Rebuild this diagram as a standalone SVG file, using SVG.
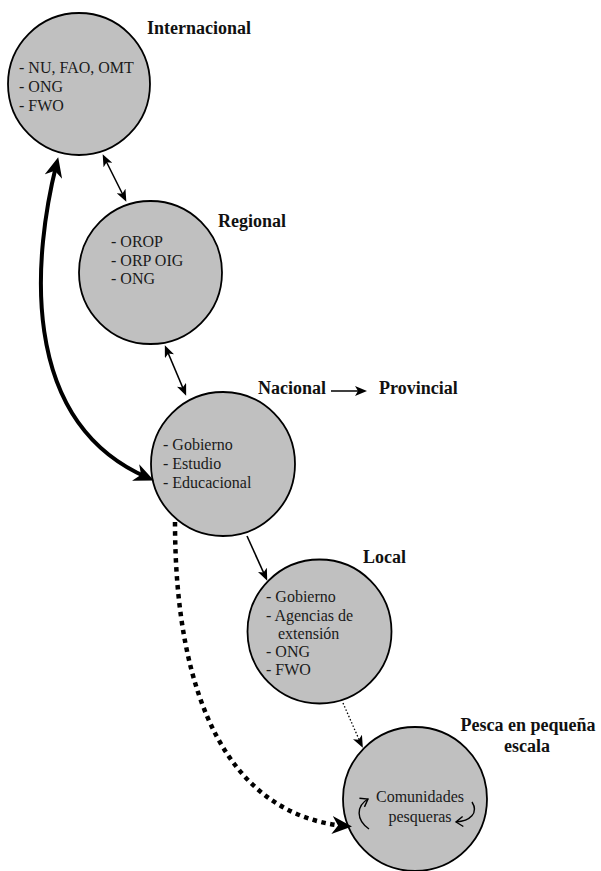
<svg xmlns="http://www.w3.org/2000/svg" width="601" height="871" viewBox="0 0 601 871" font-family="'Liberation Serif', 'Times New Roman', serif">
<style>
.node{fill:#c0c0c0;stroke:#000;stroke-width:1.8}
.t{font-family:'Liberation Serif','Times New Roman',serif;font-size:16px;fill:#1a1a1a}
.h{font-family:'Liberation Serif','Times New Roman',serif;font-size:18px;font-weight:bold;fill:#111}
.thin{fill:none;stroke:#000;stroke-width:1.6}
.thick{fill:none;stroke:#000;stroke-width:4}
.dot{fill:none;stroke:#000;stroke-width:1.3;stroke-dasharray:1.5 2}
.bigdot{fill:none;stroke:#000;stroke-width:4.5;stroke-dasharray:4.5 4.5}
.curl{fill:none;stroke:#000;stroke-width:1.4}
</style>
<defs>
<marker id="a" markerUnits="userSpaceOnUse" markerWidth="12" markerHeight="10" viewBox="0 0 12 10" refX="9" refY="5" orient="auto-start-reverse">
<path d="M0,0 L12,5 L0,10 L3,5 z" fill="#000"/>
</marker>
<marker id="b" markerUnits="userSpaceOnUse" markerWidth="20" markerHeight="18" viewBox="0 0 20 18" refX="13" refY="9" orient="auto-start-reverse">
<path d="M0,0 L20,9 L0,18 L6,9 z" fill="#000"/>
</marker>
<marker id="o" markerUnits="userSpaceOnUse" markerWidth="10" markerHeight="12" viewBox="0 0 10 12" refX="8" refY="6" orient="auto">
<path d="M1,1 L8,6 L1,11" fill="none" stroke="#000" stroke-width="1.4"/>
</marker>
</defs>

<g id="internacional">
<circle class="node" cx="79" cy="84" r="71"/>
<text class="h" x="147" y="34">Internacional</text>
<text class="t" x="19" y="73">- NU, FAO, OMT</text>
<text class="t" x="19" y="92">- ONG</text>
<text class="t" x="19" y="111">- FWO</text>
</g>

<g id="regional">
<circle class="node" cx="150.5" cy="272.5" r="71.5"/>
<text class="h" x="218" y="227">Regional</text>
<text class="t" x="111" y="247">- OROP</text>
<text class="t" x="111" y="266">- ORP OIG</text>
<text class="t" x="111" y="284">- ONG</text>
</g>

<g id="nacional">
<circle class="node" cx="223" cy="464" r="72"/>
<text class="h" x="258" y="394">Nacional</text>
<text class="t" x="163" y="450">- Gobierno</text>
<text class="t" x="163" y="469">- Estudio</text>
<text class="t" x="163" y="488">- Educacional</text>
</g>

<g id="provincial">
<text class="h" x="379" y="394">Provincial</text>
</g>

<g id="local">
<circle class="node" cx="319.5" cy="631.5" r="72"/>
<text class="h" x="363" y="563">Local</text>
<text class="t" x="266" y="602">- Gobierno</text>
<text class="t" x="266" y="621">- Agencias de</text>
<text class="t" x="278" y="639">extensión</text>
<text class="t" x="266" y="657">- ONG</text>
<text class="t" x="266" y="675">- FWO</text>
</g>

<g id="pesca">
<circle class="node" cx="415" cy="799" r="72"/>
<text class="h" x="528" y="731" text-anchor="middle">Pesca en pequeña</text>
<text class="h" x="527" y="752" text-anchor="middle">escala</text>
<text class="t" x="420" y="802" text-anchor="middle">Comunidades</text>
<text class="t" x="420" y="822" text-anchor="middle">pesqueras</text>
<path class="curl" d="M369,829 C356,820 356,806 368,799" marker-end="url(#o)"/>
<path class="curl" d="M472,802 C479,813 470,821 456,822" marker-end="url(#o)"/>
</g>

<g id="connectors">
<line class="thin" x1="104" y1="157" x2="125" y2="199" marker-start="url(#a)" marker-end="url(#a)"/>
<line class="thin" x1="166" y1="348" x2="185" y2="393" marker-start="url(#a)" marker-end="url(#a)"/>
<line class="thin" x1="331" y1="391" x2="364" y2="391" marker-end="url(#a)"/>
<line class="thin" x1="247" y1="536" x2="266" y2="578" marker-end="url(#a)"/>
<line class="dot" x1="343" y1="703" x2="361" y2="744"/>
<line class="thin" x1="359" y1="740" x2="361.5" y2="745" marker-end="url(#a)"/>
<path class="thick" d="M56.5,164 C35,250 15,420 147.5,477.6" marker-start="url(#b)" marker-end="url(#b)"/>
<path class="bigdot" d="M175,522 C175,700 230,815 345,826"/>
<path class="thick" d="M340,825.6 L345,826" marker-end="url(#b)"/>
</g>
</svg>
